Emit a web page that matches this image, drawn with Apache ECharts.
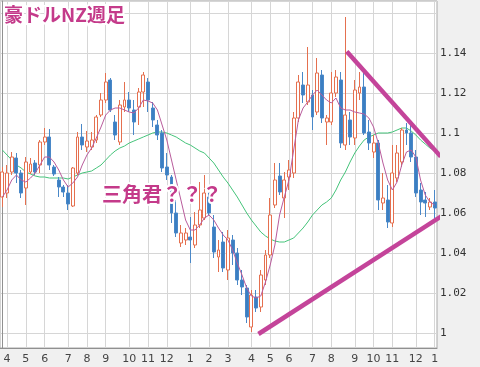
<!DOCTYPE html>
<html><head><meta charset="utf-8">
<script src="https://cdn.jsdelivr.net/npm/echarts@6/dist/echarts.min.js"></script>
<style>html,body{margin:0;padding:0;background:#f0f0f0;}#c{width:480px;height:367px;}</style>
</head><body><div id="c"></div>
<script>
const dates = [
'2014-03-31','2014-04-07','2014-04-14','2014-04-21','2014-04-28','2014-05-05','2014-05-12','2014-05-19','2014-05-26','2014-06-02',
'2014-06-09','2014-06-16','2014-06-23','2014-06-30','2014-07-07','2014-07-14','2014-07-21','2014-07-28','2014-08-04','2014-08-11',
'2014-08-18','2014-08-25','2014-09-01','2014-09-08','2014-09-15','2014-09-22','2014-09-29','2014-10-06','2014-10-13','2014-10-20',
'2014-10-27','2014-11-03','2014-11-10','2014-11-17','2014-11-24','2014-12-01','2014-12-08','2014-12-15','2014-12-22','2014-12-29',
'2015-01-05','2015-01-12','2015-01-19','2015-01-26','2015-02-02','2015-02-09','2015-02-16','2015-02-23','2015-03-02','2015-03-09',
'2015-03-16','2015-03-23','2015-03-30','2015-04-06','2015-04-13','2015-04-20','2015-04-27','2015-05-04','2015-05-11','2015-05-18',
'2015-05-25','2015-06-01','2015-06-08','2015-06-15','2015-06-22','2015-06-29','2015-07-06','2015-07-13','2015-07-20','2015-07-27',
'2015-08-03','2015-08-10','2015-08-17','2015-08-24','2015-08-31','2015-09-07','2015-09-14','2015-09-21','2015-09-28','2015-10-05',
'2015-10-12','2015-10-19','2015-10-26','2015-11-02','2015-11-09','2015-11-16','2015-11-23','2015-11-30','2015-12-07','2015-12-14',
'2015-12-21','2015-12-28','2016-01-04'];

const open = [
1.068,1.07,1.0805,1.0875,1.08,1.0725,1.0805,1.085,1.084,1.0955,
1.098,1.083,1.0765,1.073,1.07,1.0635,1.08,1.098,1.093,1.093,
1.0965,1.109,1.1165,1.1265,1.1055,1.0955,1.113,1.1165,1.1115,1.113,
1.1205,1.1255,1.1125,1.104,1.10,1.083,1.078,1.06,1.045,1.0465,
1.048,1.044,1.054,1.0575,1.068,1.053,1.038,1.0455,1.0315,1.0465,
1.04,1.0265,1.0225,1.003,1.018,1.013,1.0265,1.039,1.064,1.0785,
1.0675,1.078,1.08,1.1075,1.124,1.1155,1.119,1.1105,1.129,1.1055,
1.1055,1.12,1.1265,1.094,1.1065,1.0975,1.12,1.123,1.1005,1.0905,
1.095,1.065,1.0665,1.055,1.0775,1.0855,1.1015,1.10,1.088,1.0715,
1.0665,1.063,1.0655];
const close = [
1.0805,1.08,1.088,1.08,1.07,1.0855,1.0845,1.0805,1.0955,1.098,
1.084,1.0795,1.073,1.0705,1.0645,1.0825,1.098,1.094,1.096,1.0965,
1.108,1.1165,1.1255,1.1115,1.099,1.114,1.1165,1.1125,1.1055,1.1205,
1.129,1.1165,1.1065,1.099,1.0825,1.079,1.06,1.05,1.05,1.05,
1.0465,1.054,1.0615,1.07,1.06,1.0405,1.0415,1.0325,1.0475,1.04,
1.0265,1.023,1.008,1.019,1.0125,1.029,1.039,1.059,1.0765,1.0705,
1.0765,1.0815,1.1075,1.1255,1.119,1.124,1.108,1.13,1.1075,1.1075,
1.12,1.128,1.095,1.109,1.098,1.1215,1.123,1.10,1.095,1.095,
1.0665,1.0675,1.0555,1.08,1.09,1.1015,1.10,1.088,1.07,1.0655,
1.065,1.0655,1.0625];
const low = [
1.063,1.0675,1.079,1.075,1.0675,1.064,1.0795,1.079,1.08,1.094,
1.0815,1.0785,1.068,1.068,1.0615,1.063,1.079,1.0915,1.0905,1.0915,
1.095,1.108,1.115,1.1105,1.0965,1.094,1.1105,1.1105,1.099,1.104,
1.113,1.1105,1.103,1.0965,1.0805,1.0765,1.055,1.048,1.043,1.044,
1.035,1.0425,1.0525,1.0565,1.059,1.0375,1.0305,1.0305,1.0265,1.034,
1.024,1.019,1.005,1.0005,1.0105,1.0105,1.024,1.0375,1.0625,1.069,
1.0575,1.0715,1.0775,1.1055,1.115,1.114,1.1015,1.109,1.105,1.094,
1.104,1.118,1.0925,1.0915,1.094,1.094,1.1165,1.099,1.0915,1.0875,
1.0615,1.0615,1.0525,1.053,1.0755,1.083,1.094,1.0855,1.068,1.059,
1.058,1.0615,1.055];
const high = [
1.083,1.084,1.0905,1.09,1.0815,1.088,1.0875,1.0865,1.0965,1.1025,
1.102,1.084,1.078,1.074,1.074,1.083,1.1005,1.1045,1.101,1.1005,
1.109,1.12,1.13,1.1275,1.109,1.1165,1.1255,1.1205,1.1165,1.1225,
1.1305,1.1275,1.1155,1.1065,1.1015,1.09,1.079,1.0665,1.054,1.0525,
1.058,1.0605,1.0755,1.079,1.0725,1.059,1.0465,1.0505,1.0515,1.049,
1.0425,1.0315,1.024,1.0215,1.0215,1.0315,1.0415,1.0675,1.085,1.085,
1.0805,1.0865,1.1105,1.129,1.1305,1.143,1.1215,1.1375,1.1315,1.109,
1.1305,1.1315,1.1305,1.158,1.1105,1.1265,1.1305,1.1305,1.1065,1.099,
1.0965,1.08,1.074,1.094,1.094,1.1025,1.105,1.105,1.0915,1.075,
1.0705,1.0675,1.0715];

const maFast = [
1.068,1.0715,1.0765,1.079,1.0765,1.0755,1.0775,1.08,1.084,1.088,
1.088,1.0855,1.0815,1.0765,1.073,1.075,1.078,1.084,1.089,1.0925,
1.0975,1.103,1.109,1.1115,1.1125,1.1125,1.1115,1.1105,1.11,1.1125,
1.1165,1.116,1.115,1.1115,1.104,1.0965,1.0865,1.0765,1.0665,1.0565,
1.0515,1.0515,1.054,1.0575,1.059,1.0565,1.0525,1.049,1.0465,1.0415,
1.035,1.029,1.0225,1.0185,1.0175,1.0185,1.0255,1.034,1.044,1.059,
1.068,1.0765,1.0915,1.1065,1.1125,1.1155,1.119,1.1215,1.119,1.1165,
1.115,1.1175,1.1125,1.1115,1.1115,1.1105,1.11,1.1095,1.1075,1.103,
1.095,1.085,1.0765,1.0715,1.0755,1.084,1.0905,1.0915,1.088,1.0765,
1.069,1.0655,1.064];
const maSlow = [
1.0915,1.089,1.0865,1.084,1.0825,1.0805,1.0795,1.0785,1.078,1.078,
1.0775,1.0775,1.0775,1.0775,1.077,1.078,1.079,1.08,1.0805,1.081,
1.0825,1.084,1.0865,1.089,1.091,1.0925,1.0935,1.095,1.096,1.097,
1.098,1.099,1.10,1.1005,1.1005,1.10,1.099,1.098,1.0965,1.095,
1.094,1.0925,1.091,1.09,1.0875,1.085,1.0815,1.078,1.075,1.0715,
1.068,1.064,1.06,1.0565,1.0535,1.0505,1.0485,1.047,1.046,1.0455,
1.0455,1.0465,1.0475,1.05,1.0525,1.0555,1.059,1.0615,1.064,1.0655,
1.0675,1.0715,1.0765,1.0805,1.0855,1.09,1.0935,1.0965,1.098,1.099,
1.10,1.10,1.10,1.1005,1.1015,1.1025,1.1025,1.101,1.099,1.0965,
1.0945,1.0925,1.091];

// trend lines: [week position, price]
const upperTrend = [[73.3, 1.1407], [93.3, 1.0882]];
const lowerTrend = [[54.5, 0.9995], [93.5, 1.0585]];

const yTicks = [1, 1.02, 1.04, 1.06, 1.08, 1.1, 1.12, 1.14];

const candles = open.map((o, i) => [o, close[i], low[i], high[i]]);
const monthOf = d => parseInt(d.slice(5, 7), 10);
const isMonthStart = idx => idx > 0 && monthOf(dates[idx]) !== monthOf(dates[idx - 1]);

const chart = echarts.init(document.getElementById('c'), null, {renderer: 'canvas'});
const titleStyle = {
  fill: '#c43a8a', stroke: '#ffffff', lineWidth: 4,
  fontWeight: 'bold', fontFamily: '"Noto Sans CJK JP", sans-serif',
  shadowColor: 'rgba(0,0,0,0.45)', shadowBlur: 3, shadowOffsetX: 1.5, shadowOffsetY: 1.5
};
chart.setOption({
  animation: false,
  backgroundColor: '#f0f0f0',
  grid: {left: 0, right: 43, top: 1, bottom: 19, show: true, backgroundColor: '#ffffff', borderColor: '#a8a8a8', borderWidth: 1},
  xAxis: [{
    type: 'category', data: dates, boundaryGap: true,
    axisLine: {show: true, lineStyle: {color: '#909090'}},
    axisTick: {show: false},
    axisLabel: {interval: (i) => isMonthStart(i), formatter: v => String(monthOf(v)), color: '#444', fontSize: 11, fontFamily: 'DejaVu Sans', margin: 6},
    splitLine: {show: true, interval: (i) => isMonthStart(i), alignWithLabel: true, lineStyle: {color: '#d6d6d6', width: 1}}
  }, {
    type: 'value', min: -0.5, max: dates.length - 0.5, show: false
  }],
  yAxis: {
    type: 'value', position: 'right', min: 0.9925, max: 1.166, splitNumber: 9, scale: true,
    axisLine: {show: true, lineStyle: {color: '#909090'}},
    axisTick: {show: false},
    axisLabel: {
      showMinLabel: false, showMaxLabel: false, margin: 3,
      formatter: v => yTicks.some(t => Math.abs(t - v) < 1e-6) ? String(Number(v.toFixed(2))) : '',
      color: '#333', fontSize: 11, fontFamily: 'DejaVu Sans Mono'
    },
    splitLine: {show: true, lineStyle: {color: '#d6d6d6', width: 1}}
  },
  series: [
    {type: 'line', data: maSlow, symbol: 'none', lineStyle: {color: '#45c47a', width: 1}, z: 2},
    {type: 'candlestick', data: candles, barWidth: 3.4, z: 3,
      itemStyle: {color: '#ffffff', color0: '#3b7fc2', borderColor: '#e5704f', borderColor0: '#4a88c8', borderWidth: 1}},
    {type: 'line', data: maFast, symbol: 'none', lineStyle: {color: '#b95c9c', width: 1}, z: 4},
    {type: 'line', xAxisIndex: 1, data: upperTrend, symbol: 'none', clip: false, lineStyle: {color: '#c4449a', width: 4.5}, z: 5},
    {type: 'line', xAxisIndex: 1, data: lowerTrend, symbol: 'none', clip: false, lineStyle: {color: '#c4449a', width: 4.5}, z: 5}
  ],
  graphic: [
    {type: 'text', left: 2, top: 3, z: 100, style: Object.assign({text: '豪ドルNZ週足', fontSize: 19}, titleStyle)},
    {type: 'text', left: 100, top: 182, z: 100, style: Object.assign({text: '三角君？？？', fontSize: 20}, titleStyle)}
  ]
});
</script></body></html>
